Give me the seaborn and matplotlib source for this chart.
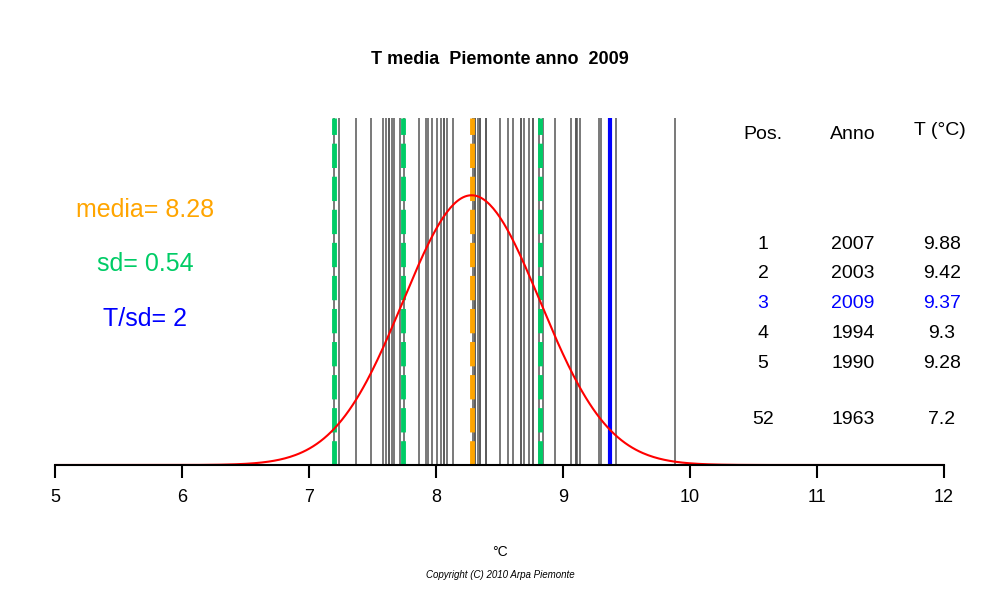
import numpy as np
import pandas as pd
import matplotlib
matplotlib.use('Agg')
import matplotlib.pyplot as plt
import seaborn as sns

# annual mean temperatures
temps = [7.20, 7.24, 7.37, 7.49, 7.58, 7.61, 7.63, 7.63, 7.65, 7.67, 7.72, 7.75,
         7.87, 7.92, 7.94, 7.97, 8.01, 8.04, 8.06, 8.06, 8.09, 8.13, 8.29, 8.31,
         8.31, 8.33, 8.35, 8.35, 8.39, 8.39, 8.50, 8.57, 8.61, 8.67, 8.67, 8.69,
         8.73, 8.76, 8.76, 8.81, 8.84, 8.94, 9.06, 9.10, 9.10, 9.11, 9.13, 9.28,
         9.30, 9.37, 9.42, 9.88]
mean_t = 8.28
sd_t = 0.54
year_t = 9.37
rank_pos = ["1", "2", "3", "4", "5", "52"]
rank_year = ["2007", "2003", "2009", "1994", "1990", "1963"]
rank_temp = ["9.88", "9.42", "9.37", "9.3", "9.28", "7.2"]
xticks = [5, 6, 7, 8, 9, 10, 11, 12]

sns.set_style('white')
plt.rcParams['font.family'] = 'Liberation Sans'
plt.rcParams['text.color'] = 'black'
fig = plt.figure(figsize=(10, 6), dpi=100)
ax = fig.add_axes([0.055, 0.225, 0.889, 0.578])

ax.vlines(temps, 0, 1, color='#555555', lw=1.1, transform=ax.get_xaxis_transform())
for v in [mean_t - 2 * sd_t, mean_t - sd_t, mean_t + sd_t]:
    ax.axvline(v, color='#00CC66', lw=3.5, ls=(0, (5, 1.8)))
ax.axvline(mean_t, color='orange', lw=3.5, ls=(0, (5, 1.8)))
ax.axvline(year_t, color='blue', lw=3)

xs = np.linspace(5, 12, 500)
pdf = np.exp(-0.5 * ((xs - mean_t) / sd_t) ** 2) / (sd_t * np.sqrt(2 * np.pi))
sns.lineplot(x=xs, y=pdf, color='red', lw=1.5, ax=ax)

ax.set_xlim(5, 12)
ax.set_ylim(0, 0.739 / 0.778)
ax.set_xticks(xticks)
ax.set_yticks([])
for s in ['top', 'right', 'left']:
    ax.spines[s].set_visible(False)
ax.spines['bottom'].set_linewidth(1.5)
ax.spines['bottom'].set_color('black')
ax.tick_params(axis='x', direction='out', length=9, width=1.5, labelsize=13, pad=8,
               bottom=True, colors='black')

fig.text(0.5, 0.9, "T media  Piemonte anno  2009", ha='center', va='center', fontsize=13, weight='bold')
fig.text(0.145, 1 - 210 / 600, "media= 8.28", color='orange', ha='center', va='center', fontsize=18)
fig.text(0.145, 1 - 264 / 600, "sd= 0.54", color='#00CC66', ha='center', va='center', fontsize=18)
fig.text(0.145, 1 - 319 / 600, "T/sd= 2", color='blue', ha='center', va='center', fontsize=18)

fig.text(0.763, 1 - 134 / 600, "Pos.", ha='center', va='center', fontsize=14)
fig.text(0.853, 1 - 134 / 600, "Anno", ha='center', va='center', fontsize=14)
fig.text(0.940, 1 - 131 / 600, "T (°C)", ha='center', va='center', fontsize=14)
ys = [244, 274, 304, 334, 363, 420]
for i in range(len(rank_pos)):
    c = 'blue' if rank_year[i] == "2009" else 'black'
    y = 1 - ys[i] / 600
    fig.text(0.763, y, rank_pos[i], ha='center', va='center', fontsize=14, color=c)
    fig.text(0.853, y, rank_year[i], ha='center', va='center', fontsize=14, color=c)
    fig.text(0.942, y, rank_temp[i], ha='center', va='center', fontsize=14, color=c)

fig.text(0.5, 1 - 552 / 600, "°C", ha='center', va='center', fontsize=10)
fig.text(0.5, 1 - 575 / 600, "Copyright (C) 2010 Arpa Piemonte", ha='center', va='center',
         fontsize=7, style='italic')

fig.savefig('out.png', dpi=100, facecolor='white')
